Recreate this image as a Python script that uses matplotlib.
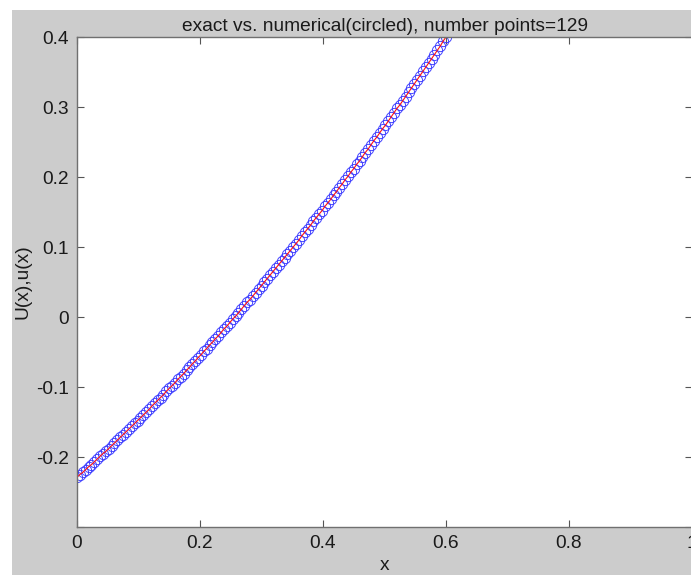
import numpy as np
import matplotlib
matplotlib.use("Agg")
import matplotlib.pyplot as plt
from matplotlib.patches import Rectangle

# grid: 129 points on [0, 0.6]
x_start, x_end, n_points = 0.0, 0.6, 129

# values (exact and numerical coincide at this scale)
u_values = [
    -0.229, -0.225, -0.222, -0.218, -0.214, -0.211, -0.207, -0.203, -0.199, -0.195,
    -0.192, -0.188, -0.184, -0.180, -0.176, -0.172, -0.168, -0.164, -0.160, -0.156,
    -0.152, -0.148, -0.144, -0.140, -0.136, -0.132, -0.127, -0.123, -0.119, -0.115,
    -0.111, -0.106, -0.102, -0.098, -0.094, -0.089, -0.085, -0.081, -0.076, -0.072,
    -0.067, -0.063, -0.058, -0.054, -0.049, -0.045, -0.040, -0.036, -0.031, -0.027,
    -0.022, -0.017, -0.013, -0.008, -0.003, 0.001, 0.006, 0.011, 0.016, 0.021,
    0.025, 0.030, 0.035, 0.040, 0.045, 0.050, 0.055, 0.060, 0.065, 0.070,
    0.075, 0.080, 0.085, 0.090, 0.095, 0.100, 0.105, 0.110, 0.116, 0.121,
    0.126, 0.131, 0.137, 0.142, 0.147, 0.152, 0.158, 0.163, 0.168, 0.174,
    0.179, 0.185, 0.190, 0.196, 0.201, 0.207, 0.212, 0.218, 0.223, 0.229,
    0.235, 0.240, 0.246, 0.252, 0.257, 0.263, 0.269, 0.274, 0.280, 0.286,
    0.292, 0.298, 0.303, 0.309, 0.315, 0.321, 0.327, 0.333, 0.339, 0.345,
    0.351, 0.357, 0.363, 0.369, 0.375, 0.381, 0.387, 0.394, 0.400,
]

x_ticks = [0, 0.2, 0.4, 0.6, 0.8, 1.0]
x_ticklabels = ["0", "0.2", "0.4", "0.6", "0.8", "1"]
y_ticks = [-0.3, -0.2, -0.1, 0, 0.1, 0.2, 0.3, 0.4]
y_ticklabels = ["", "-0.2", "-0.1", "0", "0.1", "0.2", "0.3", "0.4"]

plt.rcParams['font.family'] = ['Liberation Sans', 'DejaVu Sans']

x = np.linspace(x_start, x_end, n_points)
u = np.array(u_values)

fig = plt.figure(figsize=(6.91, 5.75), dpi=100, facecolor='white')
# matlab-like grey figure area (white strip on the left and top)
fig.patches.append(Rectangle((12 / 691, 0), 1, 565 / 575, transform=fig.transFigure,
                             facecolor='#cccccc', edgecolor='none', zorder=-10))

ax = fig.add_axes([77 / 691, 48 / 575, 615 / 691, 490 / 575])
ax.set_facecolor('white')

# numerical (circled) then exact (red line)
ax.plot(x, u, 'o', mfc='none', mec='#3a3aff', ms=7.4, mew=0.65)
ax.plot(x, u, '-', color='#ff1010', lw=0.8)

ax.set_xlim(0, 1)
ax.set_ylim(-0.3, 0.4)
ax.set_xticks(x_ticks)
ax.set_xticklabels(x_ticklabels)
ax.set_yticks(y_ticks)
ax.set_yticklabels(y_ticklabels)
ax.tick_params(direction='in', length=5, width=0.8, color='#555555',
               labelsize=13.8, labelcolor='#1a1a1a', top=True, right=True, pad=6)
for s in ax.spines.values():
    s.set_color('#707070')
    s.set_linewidth(1.0)

ax.set_title('exact vs. numerical(circled), number points=129', fontsize=13.8,
             color='#1a1a1a', pad=4)
ax.set_xlabel('x', fontsize=13.8, color='#1a1a1a', labelpad=3)
ax.set_ylabel('U(x),u(x)', fontsize=13.8, color='#1a1a1a', labelpad=3)

fig.savefig('out.png', dpi=100, facecolor=fig.get_facecolor())
